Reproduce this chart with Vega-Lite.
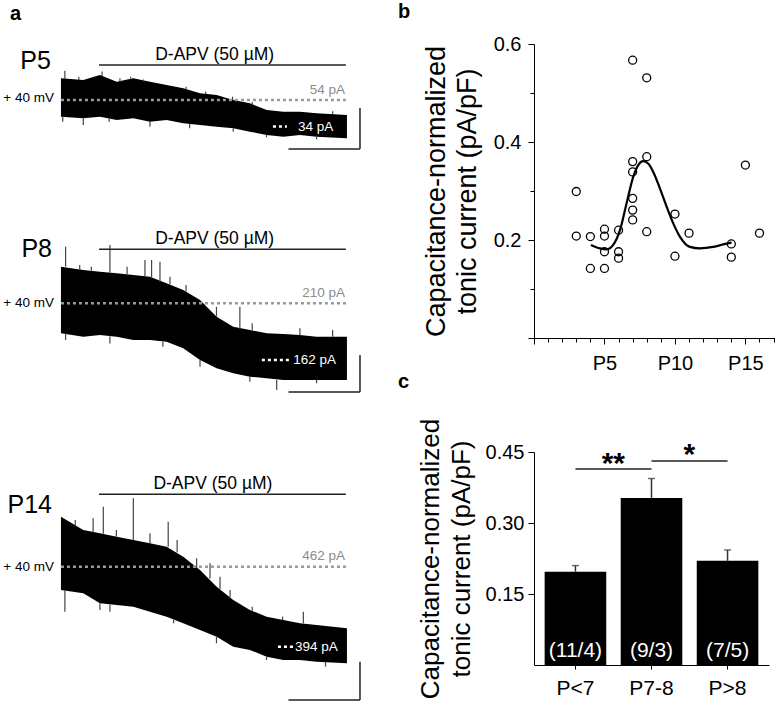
{
  "$schema": "https://vega.github.io/schema/vega-lite/v6.json",
  "padding": 0,
  "background": "white",
  "bounds": "flush",
  "spacing": 164,
  "config": {
    "view": {"stroke": null},
    "font": "Liberation Sans",
    "text": {"font": "Liberation Sans", "color": "#000"},
    "axis": {"labelFont": "Liberation Sans", "titleFont": "Liberation Sans", "labelColor": "#000", "titleColor": "#000", "domainColor": "#000", "tickColor": "#000", "grid": false, "titleFontWeight": "normal"},
    "title": {"font": "Liberation Sans", "color": "#000"}
  },
  "datasets": {
    "traces": [
      {"trace":"P5","t":0,"hi":70.3,"lo":41.4},{"trace":"P5","t":1.25,"hi":69.0,"lo":40.2},{"trace":"P5","t":2.18,"hi":72.8,"lo":41.4},{"trace":"P5","t":3.12,"hi":67.8,"lo":39.0},{"trace":"P5","t":4.05,"hi":70.3,"lo":40.2},{"trace":"P5","t":4.98,"hi":67.8,"lo":37.7},{"trace":"P5","t":5.91,"hi":65.3,"lo":39.0},{"trace":"P5","t":6.84,"hi":62.8,"lo":36.5},{"trace":"P5","t":7.78,"hi":59.0,"lo":35.2},{"trace":"P5","t":8.71,"hi":57.8,"lo":33.9},{"trace":"P5","t":9.64,"hi":54.0,"lo":32.7},{"trace":"P5","t":10.57,"hi":51.5,"lo":30.2},{"trace":"P5","t":11.51,"hi":46.5,"lo":27.7},{"trace":"P5","t":12.44,"hi":45.2,"lo":26.4},{"trace":"P5","t":13.37,"hi":45.2,"lo":27.7},{"trace":"P5","t":14.3,"hi":44.0,"lo":26.4},{"trace":"P5","t":16.0,"hi":42.7,"lo":25.2},
      {"trace":"P8","t":0,"hi":241.0,"lo":184.6},{"trace":"P8","t":1.25,"hi":238.2,"lo":181.7},{"trace":"P8","t":2.18,"hi":236.8,"lo":183.1},{"trace":"P8","t":3.12,"hi":235.4,"lo":181.7},{"trace":"P8","t":4.05,"hi":234.0,"lo":178.9},{"trace":"P8","t":4.98,"hi":232.5,"lo":178.9},{"trace":"P8","t":5.91,"hi":227.0,"lo":177.5},{"trace":"P8","t":6.84,"hi":221.3,"lo":171.9},{"trace":"P8","t":7.78,"hi":212.8,"lo":162.0},{"trace":"P8","t":8.71,"hi":198.6,"lo":154.9},{"trace":"P8","t":9.64,"hi":190.2,"lo":150.7},{"trace":"P8","t":10.57,"hi":187.4,"lo":147.8},{"trace":"P8","t":11.51,"hi":184.6,"lo":146.4},{"trace":"P8","t":12.44,"hi":184.0,"lo":145.0},{"trace":"P8","t":13.37,"hi":183.1,"lo":145.0},{"trace":"P8","t":14.3,"hi":181.7,"lo":145.0},{"trace":"P8","t":16.0,"hi":181.7,"lo":145.0},
      {"trace":"P14","t":0,"hi":504.5,"lo":442.2},{"trace":"P14","t":1.25,"hi":493.2,"lo":439.4},{"trace":"P14","t":2.18,"hi":490.4,"lo":430.9},{"trace":"P14","t":3.12,"hi":487.5,"lo":429.4},{"trace":"P14","t":4.05,"hi":484.7,"lo":428.0},{"trace":"P14","t":4.98,"hi":481.9,"lo":423.7},{"trace":"P14","t":5.91,"hi":479.0,"lo":419.5},{"trace":"P14","t":6.84,"hi":470.5,"lo":413.9},{"trace":"P14","t":7.78,"hi":459.2,"lo":408.2},{"trace":"P14","t":8.71,"hi":445.0,"lo":402.5},{"trace":"P14","t":9.64,"hi":433.7,"lo":394.0},{"trace":"P14","t":10.57,"hi":425.2,"lo":391.2},{"trace":"P14","t":11.51,"hi":419.5,"lo":385.5},{"trace":"P14","t":12.44,"hi":416.7,"lo":382.7},{"trace":"P14","t":13.37,"hi":413.9,"lo":382.7},{"trace":"P14","t":14.3,"hi":412.4,"lo":381.2},{"trace":"P14","t":16.0,"hi":409.6,"lo":379.9}
    ],
    "spikes": [
      {"trace":"P5","t":0.22,"a":70,"b":76},{"trace":"P5","t":1.0,"a":69,"b":71.5},{"trace":"P5","t":2.3,"a":72,"b":75.5},{"trace":"P5","t":3.3,"a":67.5,"b":70.3},{"trace":"P5","t":3.9,"a":70,"b":71.5},{"trace":"P5","t":4.6,"a":68,"b":69.5},{"trace":"P5","t":7.0,"a":62,"b":64},{"trace":"P5","t":8.1,"a":58.5,"b":60.2},{"trace":"P5","t":9.6,"a":54,"b":56.5},{"trace":"P5","t":10.7,"a":51,"b":52.5},{"trace":"P5","t":15.2,"a":43.5,"b":45.5},
      {"trace":"P5","t":0.1,"a":41.4,"b":37.7},{"trace":"P5","t":1.25,"a":40.2,"b":35.2},{"trace":"P5","t":2.7,"a":40.5,"b":37.7},{"trace":"P5","t":4.98,"a":37.7,"b":33.9},{"trace":"P5","t":7.2,"a":36,"b":32.7},{"trace":"P5","t":9.64,"a":32.7,"b":30.2},{"trace":"P5","t":11.5,"a":27.7,"b":26},{"trace":"P5","t":14.3,"a":26.4,"b":24.5},
      {"trace":"P8","t":0.26,"a":241,"b":258},{"trace":"P8","t":1.05,"a":238.5,"b":242.5},{"trace":"P8","t":1.7,"a":237.5,"b":241},{"trace":"P8","t":2.74,"a":236,"b":259.4},{"trace":"P8","t":3.7,"a":234.5,"b":241},{"trace":"P8","t":4.7,"a":233,"b":246.7},{"trace":"P8","t":5.07,"a":232,"b":246.7},{"trace":"P8","t":5.54,"a":228,"b":245.3},{"trace":"P8","t":6.1,"a":226,"b":232.5},{"trace":"P8","t":7.0,"a":220,"b":225.5},{"trace":"P8","t":8.7,"a":198.6,"b":207},{"trace":"P8","t":10.01,"a":188,"b":207.1},{"trace":"P8","t":10.7,"a":187,"b":193},{"trace":"P8","t":13.37,"a":183,"b":188.8},{"trace":"P8","t":15.2,"a":181.7,"b":187.4},
      {"trace":"P8","t":0.26,"a":184.6,"b":178.9},{"trace":"P8","t":2.74,"a":182,"b":176},{"trace":"P8","t":5.7,"a":177.5,"b":173.2},{"trace":"P8","t":7.78,"a":162,"b":156.3},{"trace":"P8","t":10.57,"a":147.8,"b":143.6},{"trace":"P8","t":12.07,"a":145,"b":136.5},{"trace":"P8","t":14.3,"a":145,"b":142.2},
      {"trace":"P14","t":0.22,"a":442,"b":423.7},{"trace":"P14","t":0.8,"a":497,"b":501.7},{"trace":"P14","t":1.8,"a":491,"b":503.2},{"trace":"P14","t":2.37,"a":490,"b":513},{"trace":"P14","t":3.1,"a":487.5,"b":493.2},{"trace":"P14","t":4.05,"a":484.7,"b":520.2},{"trace":"P14","t":4.98,"a":481.9,"b":490.4},{"trace":"P14","t":6.0,"a":479,"b":500.3},{"trace":"P14","t":6.5,"a":474,"b":484.7},{"trace":"P14","t":7.59,"a":461,"b":469.1},{"trace":"P14","t":8.34,"a":452,"b":464.9},{"trace":"P14","t":8.9,"a":443,"b":453.5},{"trace":"P14","t":9.46,"a":435,"b":442.2},{"trace":"P14","t":10.7,"a":424.5,"b":428},{"trace":"P14","t":12.4,"a":416.7,"b":419.5},{"trace":"P14","t":13.56,"a":413.9,"b":423.7},
      {"trace":"P14","t":2.18,"a":430.9,"b":425.2},{"trace":"P14","t":2.74,"a":430,"b":423.7},{"trace":"P14","t":6.3,"a":417,"b":413.9},{"trace":"P14","t":8.7,"a":402.5,"b":396.9},{"trace":"P14","t":11.5,"a":385.5,"b":382.7},{"trace":"P14","t":14.8,"a":381,"b":377}
    ],
    "levels": [
      {"trace":"P5","base":54,"end":34,"baseText":"54 pA","endText":"34 pA"},
      {"trace":"P8","base":210,"end":162,"baseText":"210 pA","endText":"162 pA"},
      {"trace":"P14","base":462,"end":394,"baseText":"462 pA","endText":"394 pA"}
    ],
    "points": [
      {"day":3,"value":0.299},{"day":3,"value":0.208},{"day":4,"value":0.207},{"day":4,"value":0.142},{"day":5,"value":0.222},{"day":5,"value":0.208},{"day":5,"value":0.176},{"day":5,"value":0.142},{"day":6,"value":0.220},{"day":6,"value":0.176},{"day":6,"value":0.163},{"day":7,"value":0.567},{"day":7,"value":0.360},{"day":7,"value":0.339},{"day":7,"value":0.285},{"day":7,"value":0.261},{"day":7,"value":0.241},{"day":8,"value":0.531},{"day":8,"value":0.370},{"day":8,"value":0.217},{"day":10,"value":0.253},{"day":10,"value":0.167},{"day":11,"value":0.214},{"day":14,"value":0.192},{"day":14,"value":0.165},{"day":15,"value":0.353},{"day":16,"value":0.214}
    ],
    "fit": [
      {"day":4.04,"value":0.190},{"day":4.68,"value":0.183},{"day":5.15,"value":0.181},{"day":5.62,"value":0.190},{"day":6.1,"value":0.220},{"day":6.57,"value":0.275},{"day":7.04,"value":0.329},{"day":7.4,"value":0.353},{"day":7.75,"value":0.361},{"day":8.1,"value":0.356},{"day":8.46,"value":0.339},{"day":8.94,"value":0.305},{"day":9.41,"value":0.268},{"day":9.88,"value":0.234},{"day":10.35,"value":0.207},{"day":11.06,"value":0.186},{"day":11.77,"value":0.183},{"day":12.72,"value":0.186},{"day":13.43,"value":0.191},{"day":14.02,"value":0.195}
    ],
    "bars": [
      {"group":"P<7","mean":0.197,"upper":0.210,"n":"(11/4)"},
      {"group":"P7-8","mean":0.353,"upper":0.394,"n":"(9/3)"},
      {"group":"P>8","mean":0.220,"upper":0.243,"n":"(7/5)"}
    ],
    "sig": [
      {"from":"P<7","to":"P7-8","y":0.414,"label":"**"},
      {"from":"P7-8","to":"P>8","y":0.431,"label":"*"}
    ]
  },
  "hconcat": [
    {
      "width": 370,
      "height": 703,
      "resolve": {"scale": {"y": "independent"}},
      "layer": [
        {
          "layer": [
            {"data":{"name":"traces"},"transform":[{"filter":"datum.trace==='P5'"}],"mark":{"type":"area","color":"#000"},
             "encoding":{"x":{"field":"t","type":"quantitative","scale":{"domain":[-3.41,17.29],"nice":false,"zero":false},"axis":null},
                         "y":{"field":"hi","type":"quantitative","scale":{"domain":[-399.38,129.19],"nice":false,"zero":false},"axis":null},"y2":{"field":"lo"}}},
            {"data":{"name":"spikes"},"transform":[{"filter":"datum.trace==='P5'"}],"mark":{"type":"rule","color":"#444","strokeWidth":1.2},
             "encoding":{"x":{"field":"t","type":"quantitative","scale":{"domain":[-3.41,17.29],"nice":false,"zero":false},"axis":null},
                         "y":{"field":"a","type":"quantitative","scale":{"domain":[-399.38,129.19],"nice":false,"zero":false},"axis":null},"y2":{"field":"b"}}},
            {"data":{"name":"levels"},"transform":[{"filter":"datum.trace==='P5'"}],
             "layer":[
               {"mark":{"type":"rule","color":"#9a9a9a","strokeWidth":2.5,"strokeDash":[3,3]},"encoding":{"x":{"datum":0,"type":"quantitative","scale":{"domain":[-3.41,17.29],"nice":false,"zero":false},"axis":null},"x2":{"datum":16.05},"y":{"field":"base","type":"quantitative","scale":{"domain":[-399.38,129.19],"nice":false,"zero":false},"axis":null}}},
               {"mark":{"type":"text","color":"#8c8c8c","fontSize":13.5,"align":"right","baseline":"alphabetic","dy":-6},"encoding":{"x":{"datum":15.89,"type":"quantitative"},"y":{"field":"base","type":"quantitative"},"text":{"field":"baseText"}}},
               {"mark":{"type":"rule","color":"#fff","strokeWidth":2.5,"strokeDash":[3,3]},"encoding":{"x":{"datum":11.86,"type":"quantitative"},"x2":{"datum":12.64},"y":{"field":"end","type":"quantitative"}}},
               {"mark":{"type":"text","color":"#fff","fontSize":13.5,"align":"left","baseline":"middle"},"encoding":{"x":{"datum":13.26,"type":"quantitative"},"y":{"field":"end","type":"quantitative"},"text":{"field":"endText"}}},
               {"mark":{"type":"text","fontSize":13.5,"align":"right","baseline":"middle","dy":-2},"encoding":{"x":{"datum":-0.39,"type":"quantitative"},"y":{"field":"base","type":"quantitative"},"text":{"value":"+ 40 mV"}}},
               {"mark":{"type":"text","fontSize":25,"align":"right","baseline":"alphabetic"},"encoding":{"x":{"datum":-0.56,"type":"quantitative"},"y":{"datum":77.3,"type":"quantitative"},"text":{"field":"trace"}}},
               {"mark":{"type":"rule","color":"#222","strokeWidth":1.5},"encoding":{"x":{"datum":2.13,"type":"quantitative"},"x2":{"datum":15.94},"y":{"datum":80.3,"type":"quantitative"}}},
               {"mark":{"type":"text","fontSize":17.5,"baseline":"alphabetic","dy":-5},"encoding":{"x":{"datum":8.6,"type":"quantitative"},"y":{"datum":80.3,"type":"quantitative"},"text":{"value":"D-APV (50 µM)"}}},
               {"mark":{"type":"rule","color":"#222","strokeWidth":1.5},"encoding":{"x":{"datum":12.73,"type":"quantitative"},"x2":{"datum":16.73},"y":{"datum":17.2,"type":"quantitative"}}},
               {"mark":{"type":"rule","color":"#222","strokeWidth":1.5},"encoding":{"x":{"datum":16.73,"type":"quantitative"},"y":{"datum":17.2,"type":"quantitative"},"y2":{"datum":48.0}}},
               {"mark":{"type":"text","fontSize":20,"fontWeight":"bold","align":"left","baseline":"alphabetic"},"encoding":{"x":{"datum":-2.85,"type":"quantitative"},"y":{"datum":114.2,"type":"quantitative"},"text":{"value":"a"}}}
             ]}
          ]
        },
        {
          "layer": [
            {"data":{"name":"traces"},"transform":[{"filter":"datum.trace==='P8'"}],"mark":{"type":"area","color":"#000"},
             "encoding":{"x":{"field":"t","type":"quantitative","scale":{"domain":[-3.41,17.29],"nice":false,"zero":false},"axis":null},
                         "y":{"field":"hi","type":"quantitative","scale":{"domain":[-128.73,467.03],"nice":false,"zero":false},"axis":null},"y2":{"field":"lo"}}},
            {"data":{"name":"spikes"},"transform":[{"filter":"datum.trace==='P8'"}],"mark":{"type":"rule","color":"#444","strokeWidth":1.2},
             "encoding":{"x":{"field":"t","type":"quantitative","scale":{"domain":[-3.41,17.29],"nice":false,"zero":false},"axis":null},
                         "y":{"field":"a","type":"quantitative","scale":{"domain":[-128.73,467.03],"nice":false,"zero":false},"axis":null},"y2":{"field":"b"}}},
            {"data":{"name":"levels"},"transform":[{"filter":"datum.trace==='P8'"}],
             "layer":[
               {"mark":{"type":"rule","color":"#9a9a9a","strokeWidth":2.5,"strokeDash":[3,3]},"encoding":{"x":{"datum":0,"type":"quantitative","scale":{"domain":[-3.41,17.29],"nice":false,"zero":false},"axis":null},"x2":{"datum":16.05},"y":{"field":"base","type":"quantitative","scale":{"domain":[-128.73,467.03],"nice":false,"zero":false},"axis":null}}},
               {"mark":{"type":"text","color":"#8c8c8c","fontSize":13.5,"align":"right","baseline":"alphabetic","dy":-6},"encoding":{"x":{"datum":15.89,"type":"quantitative"},"y":{"field":"base","type":"quantitative"},"text":{"field":"baseText"}}},
               {"mark":{"type":"rule","color":"#fff","strokeWidth":2.5,"strokeDash":[3,3]},"encoding":{"x":{"datum":11.24,"type":"quantitative"},"x2":{"datum":12.9},"y":{"field":"end","type":"quantitative"}}},
               {"mark":{"type":"text","color":"#fff","fontSize":13.5,"align":"left","baseline":"middle"},"encoding":{"x":{"datum":13.0,"type":"quantitative"},"y":{"field":"end","type":"quantitative"},"text":{"field":"endText"}}},
               {"mark":{"type":"text","fontSize":13.5,"align":"right","baseline":"middle","dy":0},"encoding":{"x":{"datum":-0.39,"type":"quantitative"},"y":{"field":"base","type":"quantitative"},"text":{"value":"+ 40 mV"}}},
               {"mark":{"type":"text","fontSize":25,"align":"right","baseline":"alphabetic"},"encoding":{"x":{"datum":-0.5,"type":"quantitative"},"y":{"datum":249.5,"type":"quantitative"},"text":{"field":"trace"}}},
               {"mark":{"type":"rule","color":"#222","strokeWidth":1.5},"encoding":{"x":{"datum":2.13,"type":"quantitative"},"x2":{"datum":15.94},"y":{"datum":255.8,"type":"quantitative"}}},
               {"mark":{"type":"text","fontSize":17.5,"baseline":"alphabetic","dy":-5},"encoding":{"x":{"datum":8.6,"type":"quantitative"},"y":{"datum":255.8,"type":"quantitative"},"text":{"value":"D-APV (50 µM)"}}},
               {"mark":{"type":"rule","color":"#222","strokeWidth":1.5},"encoding":{"x":{"datum":12.73,"type":"quantitative"},"x2":{"datum":16.73},"y":{"datum":134.8,"type":"quantitative"}}},
               {"mark":{"type":"rule","color":"#222","strokeWidth":1.5},"encoding":{"x":{"datum":16.73,"type":"quantitative"},"y":{"datum":134.8,"type":"quantitative"},"y2":{"datum":166.2}}}
             ]}
          ]
        },
        {
          "layer": [
            {"data":{"name":"traces"},"transform":[{"filter":"datum.trace==='P14'"}],"mark":{"type":"area","color":"#000"},
             "encoding":{"x":{"field":"t","type":"quantitative","scale":{"domain":[-3.41,17.29],"nice":false,"zero":false},"axis":null},
                         "y":{"field":"hi","type":"quantitative","scale":{"domain":[346.1,943.9],"nice":false,"zero":false},"axis":null},"y2":{"field":"lo"}}},
            {"data":{"name":"spikes"},"transform":[{"filter":"datum.trace==='P14'"}],"mark":{"type":"rule","color":"#444","strokeWidth":1.2},
             "encoding":{"x":{"field":"t","type":"quantitative","scale":{"domain":[-3.41,17.29],"nice":false,"zero":false},"axis":null},
                         "y":{"field":"a","type":"quantitative","scale":{"domain":[346.1,943.9],"nice":false,"zero":false},"axis":null},"y2":{"field":"b"}}},
            {"data":{"name":"levels"},"transform":[{"filter":"datum.trace==='P14'"}],
             "layer":[
               {"mark":{"type":"rule","color":"#9a9a9a","strokeWidth":2.5,"strokeDash":[3,3]},"encoding":{"x":{"datum":0,"type":"quantitative","scale":{"domain":[-3.41,17.29],"nice":false,"zero":false},"axis":null},"x2":{"datum":16.05},"y":{"field":"base","type":"quantitative","scale":{"domain":[346.1,943.9],"nice":false,"zero":false},"axis":null}}},
               {"mark":{"type":"text","color":"#8c8c8c","fontSize":13.5,"align":"right","baseline":"alphabetic","dy":-7},"encoding":{"x":{"datum":15.89,"type":"quantitative"},"y":{"field":"base","type":"quantitative"},"text":{"field":"baseText"}}},
               {"mark":{"type":"rule","color":"#fff","strokeWidth":2.5,"strokeDash":[3,3]},"encoding":{"x":{"datum":12.14,"type":"quantitative"},"x2":{"datum":12.98},"y":{"field":"end","type":"quantitative"}}},
               {"mark":{"type":"text","color":"#fff","fontSize":13.5,"align":"left","baseline":"middle"},"encoding":{"x":{"datum":13.09,"type":"quantitative"},"y":{"field":"end","type":"quantitative"},"text":{"field":"endText"}}},
               {"mark":{"type":"text","fontSize":13.5,"align":"right","baseline":"middle","dy":0},"encoding":{"x":{"datum":-0.39,"type":"quantitative"},"y":{"field":"base","type":"quantitative"},"text":{"value":"+ 40 mV"}}},
               {"mark":{"type":"text","fontSize":25,"align":"right","baseline":"alphabetic"},"encoding":{"x":{"datum":-0.5,"type":"quantitative"},"y":{"datum":507.4,"type":"quantitative"},"text":{"field":"trace"}}},
               {"mark":{"type":"rule","color":"#222","strokeWidth":1.5},"encoding":{"x":{"datum":2.13,"type":"quantitative"},"x2":{"datum":15.94},"y":{"datum":523.6,"type":"quantitative"}}},
               {"mark":{"type":"text","fontSize":17.5,"baseline":"alphabetic","dy":-5},"encoding":{"x":{"datum":8.5,"type":"quantitative"},"y":{"datum":523.6,"type":"quantitative"},"text":{"value":"D-APV (50 µM)"}}},
               {"mark":{"type":"rule","color":"#222","strokeWidth":1.5},"encoding":{"x":{"datum":12.73,"type":"quantitative"},"x2":{"datum":16.73},"y":{"datum":348.6,"type":"quantitative"}}},
               {"mark":{"type":"rule","color":"#222","strokeWidth":1.5},"encoding":{"x":{"datum":16.73,"type":"quantitative"},"y":{"datum":348.6,"type":"quantitative"},"y2":{"datum":381.2}}}
             ]}
          ]
        }
      ]
    },
    {
      "bounds": "flush",
      "spacing": 0,
      "vconcat": [
        {"width": 10, "height": 44, "data": {"values": []}, "mark": "rule", "encoding": {}},
        {
          "title": {"text": "b", "anchor": "start", "frame": "group", "dx": -136, "offset": 12, "fontSize": 20, "fontWeight": "bold"},
          "width": 241,
          "height": 294,
          "encoding": {
            "x": {"field": "day", "type": "quantitative", "scale": {"domain": [0, 17.1], "nice": false, "zero": false},
                  "axis": {"values": [0,1,2,3,4,5,6,7,8,9,10,11,12,13,14,15,16,17],
                           "labelExpr": "datum.value == 5 ? 'P5' : datum.value == 10 ? 'P10' : datum.value == 15 ? 'P15' : ''",
                           "tickSize": {"condition": {"test": "datum.value==0||datum.value==5||datum.value==10||datum.value==15", "value": 6}, "value": 4},
                           "labelFontSize": 20, "labelPadding": 9, "labelFlush": false, "labelOverlap": false, "title": null}},
            "y": {"field": "value", "type": "quantitative", "scale": {"domain": [0, 0.6], "nice": false, "zero": true},
                  "axis": {"values": [0,0.1,0.2,0.3,0.4,0.5,0.6], "labelExpr": "(datum.value==0.2||datum.value==0.4||datum.value==0.6) ? format(datum.value, '.1f') : ''",
                           "tickSize": {"condition": {"test": "datum.value==0.1||datum.value==0.3||datum.value==0.5", "value": 4}, "value": 6},
                           "labelFontSize": 20, "labelPadding": 7, "labelFlush": false, "labelOverlap": false,
                           "title": ["Capacitance-normalized", "tonic current (pA/pF)"], "titleFontSize": 27, "titleLineHeight": 31, "titlePadding": 12}}
          },
          "layer": [
            {"data": {"name": "points"},
             "mark": {"type": "point", "shape": "circle", "filled": false, "color": "#000", "size": 64, "strokeWidth": 1.3, "opacity": 1}},
            {"data": {"name": "fit"},
             "mark": {"type": "line", "color": "#000", "strokeWidth": 2.2, "interpolate": "monotone"}}
          ]
        },
        {"width": 10, "height": 114, "data": {"values": []}, "mark": "rule", "encoding": {}},
        {
          "title": {"text": "c", "anchor": "start", "frame": "group", "dx": -136, "offset": 26, "fontSize": 20, "fontWeight": "bold"},
          "width": 235,
          "height": 213,
          "layer": [
            {"data": {"name": "bars"},
             "mark": {"type": "bar", "color": "#000"},
             "encoding": {
               "x": {"field": "group", "type": "nominal", "sort": ["P<7", "P7-8", "P>8"],
                     "scale": {"domain": ["P<7", "P7-8", "P>8"], "paddingInner": 0.19, "paddingOuter": 0.14},
                     "axis": {"title": null, "labelAngle": 0, "labelFontSize": 21, "tickSize": 4, "labelPadding": 8}},
               "y": {"field": "mean", "type": "quantitative", "scale": {"domain": [0, 0.45], "nice": false},
                     "axis": {"values": [0.15, 0.3, 0.45], "format": ".2f", "tickSize": 6, "labelFontSize": 20, "labelPadding": 4,
                              "title": ["Capacitance-normalized", "tonic current (pA/pF)"], "titleFontSize": 26, "titleLineHeight": 31, "titlePadding": 11}}
             }},
            {"data": {"name": "bars"},
             "mark": {"type": "rule", "color": "#333", "strokeWidth": 1.5},
             "encoding": {"x": {"field": "group", "type": "nominal"}, "y": {"field": "mean", "type": "quantitative"}, "y2": {"field": "upper"}}},
            {"data": {"name": "bars"},
             "mark": {"type": "tick", "color": "#333", "thickness": 1.5, "size": 7, "orient": "horizontal"},
             "encoding": {"x": {"field": "group", "type": "nominal"}, "y": {"field": "upper", "type": "quantitative"}}},
            {"data": {"name": "bars"},
             "mark": {"type": "text", "color": "#fff", "fontSize": 21, "baseline": "bottom", "dy": -4},
             "encoding": {"x": {"field": "group", "type": "nominal"}, "y": {"datum": 0, "type": "quantitative"}, "text": {"field": "n"}}},
            {"data": {"name": "sig"},
             "mark": {"type": "rule", "color": "#222", "strokeWidth": 1.5},
             "encoding": {"x": {"field": "from", "type": "nominal"}, "x2": {"field": "to"}, "y": {"field": "y", "type": "quantitative"}}},
            {"data": {"name": "sig"},
             "mark": {"type": "text", "fontSize": 30, "fontWeight": "bold", "baseline": "alphabetic", "dy": 3.5},
             "encoding": {"x": {"field": "from", "type": "nominal", "bandPosition": 1.115}, "y": {"field": "y", "type": "quantitative"}, "text": {"field": "label"}}}
          ]
        }
      ]
    }
  ]
}
